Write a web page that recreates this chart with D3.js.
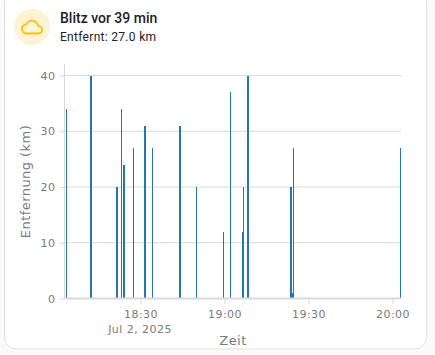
<!DOCTYPE html>
<html>
<head>
<meta charset="utf-8">
<script src="https://cdn.jsdelivr.net/npm/d3@7"></script>
<style>
  html, body { margin: 0; padding: 0; background: #fafafa; }
  svg { display: block; }
  text { font-family: "DejaVu Sans", sans-serif; }
  .head { font-family: Roboto, sans-serif; fill: #212121; }
  .tick text, .lbl { letter-spacing: 0.45px; }
</style>
</head>
<body>
<div id="chart"></div>
<script>
// Strike times, distance in km, and how long each bar spans in seconds
const strikeTimes = ['18:03:19','18:11:58','18:21:09','18:22:58','18:23:38','18:27:15','18:31:15','18:34:02','18:43:45','18:49:45','18:59:26','19:01:54','19:06:11','19:06:34','19:08:02','19:23:23','19:24:06','19:24:28','20:02:34'];
const strikeKm = [34, 40, 20, 34, 24, 27, 31, 27, 31, 20, 12, 37, 12, 20, 40, 20, 1, 27, 27];
const strikeSpan = [21, 43, 43, 21, 43, 21, 43, 21, 43, 21, 17, 21, 43, 17, 43, 43, 21, 21, 21];
const yTicks = [0, 10, 20, 30, 40];
const xTickTimes = ['18:30:00', '19:00:00', '19:30:00', '20:00:00'];

const title = 'Blitz vor 39 min';
const subtitle = 'Entfernt: 27.0 km';
const cloudIcon = 'M19.35,10.03C18.67,6.59 15.64,4 12,4C9.11,4 6.6,5.64 5.35,8.03C2.34,8.36 0,10.9 0,14A6,6 0 0,0 6,20H19A5,5 0 0,0 24,15C24,12.36 21.95,10.22 19.35,10.03M19,18H6A4,4 0 0,1 2,14C2,11.95 3.53,10.24 5.56,10.03L6.63,9.92L7.13,8.97C8.08,7.14 9.94,6 12,6C14.62,6 16.88,7.86 17.39,10.43L17.69,11.93L19.22,12.04C20.78,12.14 22,13.45 22,15A3,3 0 0,1 19,18Z';

const parseTime = d3.timeParse('%H:%M:%S');
const width = 435, height = 355;
const plot = { left: 65, right: 401, top: 64, bottom: 298 };

const svg = d3.select('#chart').append('svg')
  .attr('width', width).attr('height', height);

// Card
svg.append('rect').attr('x', 4.5).attr('y', -10).attr('width', 422).attr('height', 359)
  .attr('rx', 12).attr('fill', '#fff').attr('stroke', '#e0e0e0');

// Header
svg.append('circle').attr('cx', 32).attr('cy', 27).attr('r', 18).attr('fill', '#fff3d6');
svg.append('path').attr('d', cloudIcon).attr('fill', '#ffc107')
  .attr('transform', 'translate(21,16) scale(0.92)');
svg.append('text').attr('class', 'head').attr('x', 60).attr('y', 23)
  .attr('font-size', '14px').attr('font-weight', 500).text(title);
svg.append('text').attr('class', 'head').attr('x', 60).attr('y', 41)
  .attr('font-size', '12px').attr('letter-spacing', '0.3px').text(subtitle);

// x: 84px per 30 minutes, 18:30 sits at 140.5
const x = d3.scaleTime()
  .domain([parseTime('18:30:00'), parseTime('19:30:00')])
  .range([140.5, 308.5]);
const y = d3.scaleLinear().domain([0, 40]).range([298.5, 75.5]);

// Grid
svg.append('g').selectAll('line').data(yTicks).join('line')
  .attr('x1', plot.left).attr('x2', plot.right)
  .attr('y1', d => y(d)).attr('y2', d => y(d))
  .attr('stroke', '#d9d9d9');

// Bars
svg.append('g').attr('shape-rendering', 'crispEdges')
  .selectAll('rect').data(strikeTimes).join('rect')
  .attr('x', d => x(parseTime(d)))
  .attr('y', (d, i) => y(strikeKm[i]))
  .attr('width', (d, i) => x(d3.timeSecond.offset(parseTime(d), strikeSpan[i])) - x(parseTime(d)))
  .attr('height', (d, i) => y(0) - y(strikeKm[i]))
  .attr('fill', '#1f77b4');

// Axes
const yAxis = d3.axisLeft(y).tickValues(yTicks).tickSize(5).tickPadding(4);
const yG = svg.append('g').attr('transform', `translate(${plot.left - 0.5},0)`).call(yAxis);
yG.select('.domain').remove();
yG.selectAll('line').attr('stroke', '#d9d9d9');
yG.selectAll('text').attr('font-size', '11px').attr('fill', '#7a7a7a').attr('font-family', '"DejaVu Sans", sans-serif');
svg.append('line').attr('x1', plot.left - 0.5).attr('x2', plot.left - 0.5).attr('y1', plot.top).attr('y2', plot.bottom + 1)
  .attr('stroke', '#d9d9d9');

const xAxis = d3.axisBottom(x).tickValues(xTickTimes.map(parseTime))
  .tickFormat(d3.timeFormat('%H:%M')).tickSize(5).tickPadding(6);
const xG = svg.append('g').attr('transform', `translate(0,${plot.bottom + 1})`).call(xAxis);
xG.select('.domain').remove();
xG.selectAll('line').attr('stroke', '#d9d9d9');
xG.selectAll('text').attr('font-size', '11px').attr('fill', '#7a7a7a').attr('font-family', '"DejaVu Sans", sans-serif');
svg.append('line').attr('x1', plot.left).attr('x2', plot.right).attr('y1', plot.bottom + 0.5).attr('y2', plot.bottom + 0.5)
  .attr('stroke', '#d9d9d9').attr('stroke-width', 2);

svg.append('text').attr('class', 'lbl').attr('x', 140).attr('y', 333).attr('text-anchor', 'middle')
  .attr('font-size', '11px').attr('fill', '#7a7a7a').text('Jul 2, 2025');
svg.append('text').attr('class', 'lbl').attr('x', 233).attr('y', 345).attr('text-anchor', 'middle')
  .attr('font-size', '13px').attr('fill', '#7a7a7a').text('Zeit');
svg.append('text').attr('class', 'lbl').attr('transform', 'translate(29.5,181.5) rotate(-90)').attr('text-anchor', 'middle')
  .attr('font-size', '13px').attr('fill', '#7a7a7a').text('Entfernung (km)');
</script>
</body>
</html>
